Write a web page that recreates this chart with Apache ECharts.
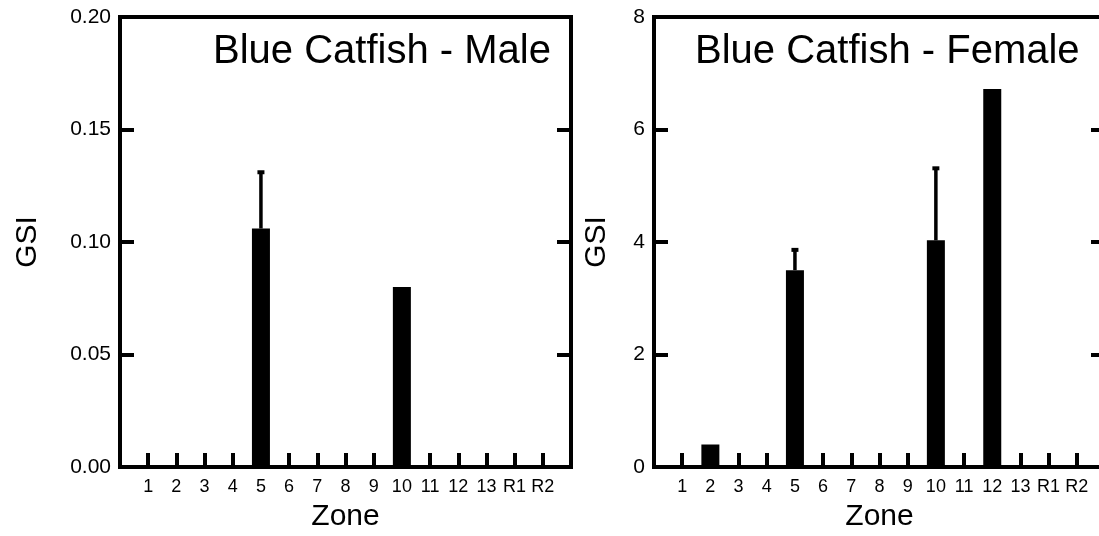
<!DOCTYPE html>
<html>
<head>
<meta charset="utf-8">
<script src="https://cdn.jsdelivr.net/npm/echarts@6/dist/echarts.min.js"></script>
<style>
  html, body { margin: 0; padding: 0; background: #fff; }
  #chart { width: 1099px; height: 536px; }
</style>
</head>
<body>
<div id="chart"></div>
<script>
// Sampling zones along the river, plus two reference sites
const zones = ['1', '2', '3', '4', '5', '6', '7', '8', '9', '10', '11', '12', '13', 'R1', 'R2'];

// Mean gonadosomatic index per zone and the upper error (SE) above each mean
const maleGSI   = [0, 0, 0, 0, 0.106, 0, 0, 0, 0, 0.080, 0, 0, 0, 0, 0];
const maleErr   = [0, 0, 0, 0, 0.025, 0, 0, 0, 0, 0, 0, 0, 0, 0, 0];
const femaleGSI = [0, 0.40, 0, 0, 3.50, 0, 0, 0, 0, 4.03, 0, 6.72, 0, 0, 0];
const femaleErr = [0, 0, 0, 0, 0.36, 0, 0, 0, 0, 1.28, 0, 0, 0, 0, 0];

// Y-axis ranges and tick steps
const maleAxis   = { min: 0, max: 0.20, step: 0.05, digits: 2 };
const femaleAxis = { min: 0, max: 8, step: 2, digits: 0 };

const panelTitles = ['Blue Catfish - Male', 'Blue Catfish - Female'];

// One empty slot on each side so the zones sit one step in from the frame
const axisCats = [''].concat(zones, ['']);
const pad = arr => [null].concat(arr, [null]);

const FONT = 'Liberation Sans, Arial, sans-serif';
const INK = '#000';

function errorSeries(gi, means, errs) {
  const pts = [];
  means.forEach((m, i) => {
    if (errs[i] > 0) pts.push([i + 1, m, m + errs[i]]);
  });
  return {
    type: 'custom',
    xAxisIndex: gi * 2,
    yAxisIndex: gi * 2,
    z: 5,
    data: pts,
    renderItem: (params, api) => {
      const base = api.coord([api.value(0), api.value(1)]);
      const top = api.coord([api.value(0), api.value(2)]);
      return {
        type: 'group',
        children: [
          { type: 'line', shape: { x1: base[0], y1: base[1], x2: top[0], y2: top[1] },
            style: { stroke: INK, lineWidth: 3.5 } },
          { type: 'rect', shape: { x: top[0] - 3.5, y: top[1] - 2, width: 7, height: 4 },
            style: { fill: INK } }
        ]
      };
    }
  };
}

// The right panel runs past the page edge, so its right frame is cut off
const grids = [
  { left: 120, top: 17, width: 451, height: 450 },
  { left: 654, top: 17, width: 451, height: 450 }
];

const xAxes = [], yAxes = [];
[maleAxis, femaleAxis].forEach((ax, gi) => {
  // bottom zone axis
  xAxes.push({
    type: 'category', gridIndex: gi, data: axisCats, boundaryGap: false,
    axisLine: { show: false },
    axisTick: { show: true, inside: true, length: 14, interval: (i, v) => v !== '',
                lineStyle: { color: INK, width: 4 } },
    axisLabel: { interval: 0, color: INK, fontFamily: FONT, fontSize: 18, margin: 11 },
    name: 'Zone', nameLocation: 'middle', nameGap: 35,
    nameTextStyle: { color: INK, fontFamily: FONT, fontSize: 30 }
  });
  // top frame (no marks)
  xAxes.push({
    type: 'category', gridIndex: gi, data: axisCats, boundaryGap: false, position: 'top',
    axisLine: { show: false }, axisTick: { show: false }, axisLabel: { show: false }
  });
  // left value axis
  yAxes.push({
    type: 'value', gridIndex: gi, min: ax.min, max: ax.max, interval: ax.step,
    splitLine: { show: false },
    axisLine: { show: false },
    axisTick: { show: true, inside: true, length: 14, lineStyle: { color: INK, width: 4 } },
    axisLabel: { color: INK, fontFamily: FONT, fontSize: 21, margin: 9,
                 formatter: v => v.toFixed(ax.digits) },
    name: 'GSI', nameLocation: 'middle', nameRotate: 90, nameGap: gi === 0 ? 77 : 42,
    nameTextStyle: { color: INK, fontFamily: FONT, fontSize: 30 }
  });
  // mirrored ticks on the right edge
  yAxes.push({
    type: 'value', gridIndex: gi, position: 'right', min: ax.min, max: ax.max, interval: ax.step,
    splitLine: { show: false },
    axisLine: { show: false },
    axisTick: { show: true, inside: true, length: 14, lineStyle: { color: INK, width: 4 } },
    axisLabel: { show: false }
  });
});

const series = [];
[[maleGSI, maleErr], [femaleGSI, femaleErr]].forEach(([vals, errs], gi) => {
  series.push({
    type: 'bar', xAxisIndex: gi * 2, yAxisIndex: gi * 2,
    data: pad(vals), barWidth: 18, z: 3,
    itemStyle: { color: INK }
  });
  series.push(errorSeries(gi, vals, errs));
});

const chart = echarts.init(document.getElementById('chart'), null, { renderer: 'canvas' });
chart.setOption({
  animation: false,
  backgroundColor: '#fff',
  title: [
    { text: panelTitles[0], left: 208, top: 27,
      textStyle: { color: INK, fontFamily: FONT, fontSize: 40, fontWeight: 'normal' } },
    { text: panelTitles[1], left: 690, top: 27,
      textStyle: { color: INK, fontFamily: FONT, fontSize: 40, fontWeight: 'normal' } }
  ],
  grid: grids.map(g => Object.assign({ show: true, borderColor: INK, borderWidth: 4,
                                         backgroundColor: 'transparent',
                                         outerBoundsMode: 'none', containLabel: false }, g)),
  xAxis: xAxes,
  yAxis: yAxes,
  series: series
});
</script>
</body>
</html>
